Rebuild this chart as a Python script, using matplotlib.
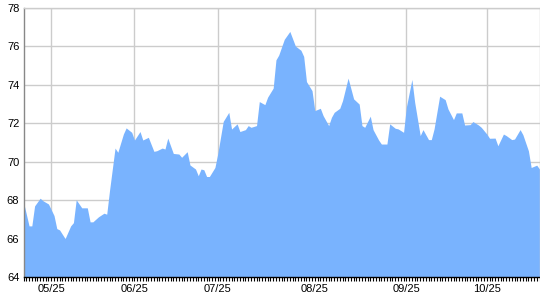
import matplotlib
matplotlib.use("Agg")
import matplotlib.pyplot as plt
from matplotlib.ticker import MultipleLocator, FixedLocator

plt.rcParams['font.family'] = ['Liberation Sans', 'DejaVu Sans']

# day index along the axis and the value at that day
days = [0, 2, 3, 4, 6, 7, 9, 11, 12, 13, 15, 17, 18, 19, 21, 23, 24, 25, 27, 29,
        30, 31, 33, 34, 36, 37, 39, 40, 42, 43, 45, 47, 48, 50, 51, 52, 54, 56, 57, 59,
        60, 62, 63, 64, 65, 66, 67, 69, 70, 72, 74, 75, 77, 78, 80, 81, 82, 84, 85, 87,
        88, 90, 91, 92, 94, 96, 98, 100, 101, 102, 104, 105, 107, 108, 110, 111, 112, 114, 115, 117,
        119, 121, 122, 123, 125, 126, 128, 129, 131, 132, 134, 135, 137, 138, 140, 141, 143, 144, 146, 147,
        148, 150, 152, 153, 155, 156, 158, 159, 161, 162, 164, 165, 167, 168, 170, 171, 173, 174, 176, 177,
        179, 180, 182, 183, 185, 186]
values = [67.9, 66.66, 66.66, 67.7, 68.1, 67.97, 67.8, 67.2, 66.52, 66.45, 66.0, 66.66, 66.83, 68.02, 67.6, 67.6, 66.87, 66.87, 67.13, 67.32,
          67.27, 68.49, 70.71, 70.49, 71.44, 71.76, 71.53, 71.13, 71.57, 71.13, 71.27, 70.54, 70.57, 70.71, 70.66, 71.23, 70.43, 70.4, 70.23, 70.52,
          69.83, 69.62, 69.27, 69.62, 69.58, 69.23, 69.23, 69.7, 70.4, 72.1, 72.57, 71.7, 71.97, 71.57, 71.67, 71.88, 71.79, 71.88, 73.13, 72.97,
          73.36, 73.83, 75.3, 75.55, 76.37, 76.78, 76.02, 75.8, 75.48, 74.17, 73.7, 72.66, 72.78, 72.4, 71.88, 72.31, 72.57, 72.78, 73.18, 74.35,
          73.27, 73.0, 71.88, 71.79, 72.37, 71.67, 71.13, 70.92, 70.92, 71.97, 71.74, 71.71, 71.53, 72.84, 74.28, 73.1, 71.36, 71.67, 71.15, 71.15,
          71.71, 73.41, 73.23, 72.75, 72.19, 72.54, 72.54, 71.91, 71.93, 72.09, 71.91, 71.79, 71.44, 71.22, 71.23, 70.83, 71.44, 71.36, 71.15, 71.18,
          71.67, 71.41, 70.57, 69.7, 69.82, 69.62]

month_ticks = [10, 40, 70, 105, 138, 167]
month_labels = ["05/25", "06/25", "07/25", "08/25", "09/25", "10/25"]
y_ticks = [64, 66, 68, 70, 72, 74, 76, 78]

fig = plt.figure(figsize=(5.4, 3.0), dpi=100)
ax = fig.add_axes([23.5 / 540, 1 - 277 / 300, (539.5 - 23.5) / 540, (277 - 8) / 300])

ax.fill_between(days, values, 64, color="#79b3fe", linewidth=0, zorder=2)

ax.set_xlim(0, 186)
ax.set_ylim(64, 78)
ax.set_yticks(y_ticks)
ax.set_yticklabels([str(v) for v in y_ticks])
ax.xaxis.set_major_locator(FixedLocator(month_ticks))
ax.set_xticklabels(month_labels)
ax.xaxis.set_minor_locator(MultipleLocator(1))

ax.grid(True, which="major", color="#cccccc", linewidth=1.0, zorder=0)
ax.set_axisbelow(True)

for s in ["top", "right"]:
    ax.spines[s].set_color("#cccccc")
    ax.spines[s].set_linewidth(1.0)
ax.spines["left"].set_color("#888888")
ax.spines["left"].set_linewidth(1.0)
ax.spines["bottom"].set_color("#000000")
ax.spines["bottom"].set_linewidth(1.0)

ax.tick_params(axis="y", length=0, pad=3, labelsize=8, labelcolor="black")
ax.tick_params(axis="x", which="both", length=3, width=0.8, color="black", direction="out",
               pad=2, labelsize=8, labelcolor="black")

fig.savefig("out.png", dpi=100)
